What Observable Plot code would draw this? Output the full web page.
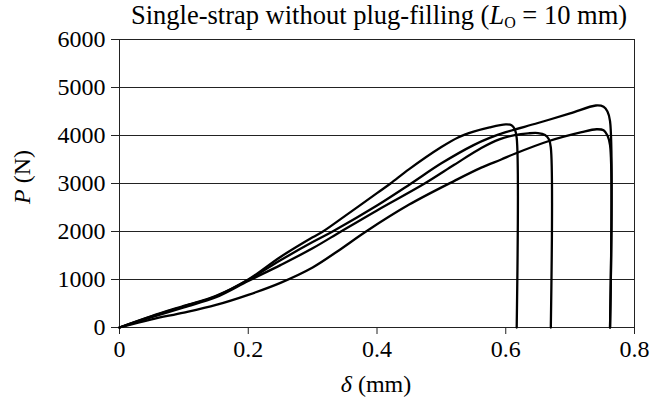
<!DOCTYPE html>
<html>
<head>
<meta charset="utf-8">
<script src="https://cdn.jsdelivr.net/npm/d3@7"></script>
<script src="https://cdn.jsdelivr.net/npm/@observablehq/plot@0.6"></script>
<style>
  html, body { margin: 0; padding: 0; background: #fff; }
  #wrap { position: relative; width: 653px; height: 402px; font-family: "Liberation Serif", "Times New Roman", serif; color: #000; }
  .lbl { position: absolute; white-space: nowrap; font-size: 24px; line-height: 1; }
  #title { left: 379px; top: 2px; transform: translateX(-50%); font-size: 26.5px; }
  #ylab { left: 22px; top: 177px; transform: translate(-50%, -50%) rotate(-90deg); }
  #xlab { left: 376px; top: 372px; transform: translateX(-50%); }
  #chart { position: absolute; left: 0; top: 0; }
  #chart svg, #chart svg text { font-family: "Liberation Serif", "Times New Roman", serif !important; }
</style>
</head>
<body>
<div id="wrap">
  <div id="chart"></div>
  <div class="lbl" id="title">Single-strap without plug-filling (<i>L</i><sub style="font-size:16px;vertical-align:-4px">O</sub> = 10 mm)</div>
  <div class="lbl" id="ylab"><i>P</i> (N)</div>
  <div class="lbl" id="xlab"><i>δ</i> (mm)</div>
</div>
<script>
// Axis ticks
const xTicks = [0, 0.2, 0.4, 0.6, 0.8];
const xTickLabels = ["0", "0.2", "0.4", "0.6", "0.8"];
const yTicks = [0, 1000, 2000, 3000, 4000, 5000, 6000];
const yTickLabels = ["0", "1000", "2000", "3000", "4000", "5000", "6000"];

// Specimen A (steepest, fails ~0.617 mm)
const deltaA = [0, 0.05, 0.10, 0.15, 0.20, 0.25, 0.30, 0.316, 0.35, 0.40, 0.421, 0.45, 0.50, 0.526, 0.55, 0.575, 0.60, 0.609, 0.614, 0.617, 0.617];
const loadA  = [0, 240, 450, 660, 1000, 1470, 1880, 2000, 2320, 2800, 3000, 3300, 3760, 3960, 4080, 4170, 4230, 4215, 4130, 3950, 0];

// Specimen B (highest peak, fails ~0.762 mm)
const deltaB = [0, 0.05, 0.10, 0.15, 0.20, 0.25, 0.30, 0.331, 0.40, 0.453, 0.50, 0.55, 0.575, 0.60, 0.65, 0.70, 0.74, 0.752, 0.758, 0.762, 0.762];
const loadB  = [0, 230, 440, 650, 990, 1400, 1780, 2000, 2540, 3000, 3420, 3800, 3950, 4070, 4260, 4460, 4625, 4600, 4500, 4300, 0];

// Specimen C (fails ~0.670 mm)
const deltaC = [0, 0.05, 0.10, 0.15, 0.20, 0.25, 0.30, 0.344, 0.40, 0.474, 0.52, 0.562, 0.59, 0.614, 0.635, 0.65, 0.661, 0.667, 0.670, 0.670];
const loadC  = [0, 215, 420, 630, 970, 1300, 1650, 2000, 2440, 3000, 3390, 3740, 3920, 4010, 4045, 4050, 4010, 3920, 3750, 0];

// Specimen D (lowest, fails ~0.762 mm)
const deltaD = [0, 0.05, 0.10, 0.15, 0.20, 0.25, 0.30, 0.34, 0.383, 0.45, 0.521, 0.562, 0.593, 0.614, 0.666, 0.718, 0.741, 0.752, 0.758, 0.762, 0.762];
const loadD  = [0, 170, 310, 470, 680, 930, 1250, 1600, 2000, 2560, 3060, 3330, 3500, 3620, 3880, 4070, 4130, 4110, 4000, 3800, 0];

const series = [
  {name: "A", x: deltaA, y: loadA},
  {name: "B", x: deltaB, y: loadB},
  {name: "C", x: deltaC, y: loadC},
  {name: "D", x: deltaD, y: loadD}
];
const rows = series.flatMap(s => s.x.map((d, i) => ({specimen: s.name, delta: d, load: s.y[i]})));

const chart = Plot.plot({
  width: 653,
  height: 402,
  marginLeft: 119,
  marginRight: 19,
  marginTop: 39,
  marginBottom: 75,
  style: "font-family: 'Liberation Serif', 'Times New Roman', serif; font-size: 24px; color: #000; background: #fff;",
  x: {domain: [0, 0.8], ticks: xTicks, label: null},
  y: {domain: [0, 6000], ticks: yTicks, label: null},
  marks: [
    Plot.ruleY(yTicks, {stroke: "#222", strokeWidth: 1}),
    Plot.ruleX([0.8], {stroke: "#222", strokeWidth: 1}),
    Plot.ruleX([0], {stroke: "#222", strokeWidth: 1}),
    Plot.axisY({ticks: yTicks, tickSize: 8, tickPadding: 6, tickFormat: (d) => yTickLabels[yTicks.indexOf(d)], label: null, stroke: "#222", fontSize: 24}),
    Plot.axisX({ticks: xTicks, tickSize: 7, tickPadding: 5, tickFormat: (d) => xTickLabels[xTicks.indexOf(d)], label: null, stroke: "#222", fontSize: 24}),
    Plot.line(rows, {x: "delta", y: "load", z: "specimen", stroke: "#000", strokeWidth: 2.3, curve: "catmull-rom"})
  ]
});
document.getElementById("chart").appendChild(chart);
</script>
</body>
</html>
